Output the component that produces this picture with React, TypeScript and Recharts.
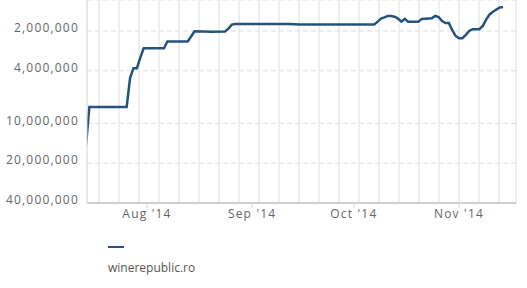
import { CartesianGrid, Legend, Line, LineChart, XAxis, YAxis } from 'recharts'

const dates = [
  '2014-07-14', '2014-07-15', '2014-07-26', '2014-07-27', '2014-07-28', '2014-07-29',
  '2014-07-30', '2014-07-31', '2014-08-06', '2014-08-07', '2014-08-13', '2014-08-14',
  '2014-08-15', '2014-08-20', '2014-08-24', '2014-08-25', '2014-08-26', '2014-08-27',
  '2014-09-12', '2014-09-15', '2014-10-07', '2014-10-08', '2014-10-09', '2014-10-10',
  '2014-10-11', '2014-10-12', '2014-10-13', '2014-10-14', '2014-10-15', '2014-10-16',
  '2014-10-17', '2014-10-20', '2014-10-21', '2014-10-24', '2014-10-25', '2014-10-26',
  '2014-10-27', '2014-10-28', '2014-10-29', '2014-10-30', '2014-10-31', '2014-11-01',
  '2014-11-02', '2014-11-03', '2014-11-04', '2014-11-05', '2014-11-07', '2014-11-08',
  '2014-11-09', '2014-11-10', '2014-11-11', '2014-11-12', '2014-11-13', '2014-11-14',
]

const ranks = [
  14600000, 7500000, 7500000, 4540000, 3820000, 3820000,
  3190000, 2700000, 2700000, 2400000, 2400000, 2200000,
  2010000, 2030000, 2020000, 1920000, 1790000, 1770000,
  1770000, 1790000, 1790000, 1700000, 1610000, 1580000,
  1540000, 1540000, 1560000, 1610000, 1700000, 1620000,
  1700000, 1700000, 1620000, 1600000, 1540000, 1570000,
  1680000, 1740000, 1740000, 1970000, 2180000, 2270000,
  2270000, 2140000, 2000000, 1940000, 1940000, 1830000,
  1640000, 1500000, 1430000, 1380000, 1330000, 1320000,
]

const rankTicks = [2000000, 4000000, 10000000, 20000000, 40000000]
const monthTicks = ['2014-08-01', '2014-09-01', '2014-10-01', '2014-11-01']
const monthNames = ['Jan', 'Feb', 'Mar', 'Apr', 'May', 'Jun', 'Jul', 'Aug', 'Sep', 'Oct', 'Nov', 'Dec']
const seriesName = 'winerepublic.ro'

const DAY = 86400000
const ts = (s: string) => Date.parse(s + 'T00:00:00Z')
const xStart = ts('2014-08-01') - 17.7 * DAY
const xEnd = ts('2014-08-01') + 108.8 * DAY

const data = dates.map((d, i) => ({ t: ts(d), rank: ranks[i] }))

function monthLabel(v: number) {
  const d = new Date(v)
  return `${monthNames[d.getUTCMonth()]} '${String(d.getUTCFullYear()).slice(2)}`
}

const lineColor = '#24547e'
const gridColor = '#dedede'

function LegendBox() {
  return (
    <div style={{ fontFamily: '"Open Sans", sans-serif' }}>
      <div style={{ width: 16, height: 2, background: lineColor, marginLeft: 8 }} />
      <div style={{ fontSize: 12, color: '#555', marginTop: 11, marginLeft: 8 }}>{seriesName}</div>
    </div>
  )
}

export default function App() {
  return (
    <div style={{ position: 'absolute', left: 0, top: 0, width: 527, height: 288, background: '#fff', fontFamily: '"Open Sans", sans-serif' }}>
      <LineChart width={527} height={288} data={data} margin={{ top: 0, right: 11, bottom: 55, left: 0 }}>
        <CartesianGrid horizontal={true} vertical={false} stroke={gridColor} strokeDasharray="5 3" />
        <CartesianGrid
          horizontal={false}
          vertical={true}
          stroke={gridColor}
          verticalCoordinatesGenerator={({ offset }: any) => {
            const out: number[] = []
            for (let x = offset.left + 12; x < offset.left + offset.width - 5; x += 20) out.push(x)
            out.push(offset.left + offset.width)
            return out
          }}
        />
        <XAxis
          dataKey="t"
          type="number"
          scale="time"
          domain={[xStart, xEnd]}
          allowDataOverflow
          ticks={monthTicks.map(ts)}
          tickFormatter={monthLabel}
          tick={{ fontSize: 12, fill: '#666', letterSpacing: 1.2 }}
          tickSize={5}
          tickMargin={1}
          tickLine={{ stroke: '#ccd6eb' }}
          axisLine={{ stroke: '#d0d0d0', strokeWidth: 2 }}
        />
        <YAxis
          dataKey="rank"
          scale="log"
          reversed
          domain={[1166000, 40000000]}
          allowDataOverflow
          ticks={rankTicks}
          tickFormatter={(v: number) => v.toLocaleString('en-US')}
          tick={{ fontSize: 12, fill: '#666', letterSpacing: 1.2, dy: -3 }}
          tickLine={false}
          axisLine={{ stroke: '#d0d0d0' }}
          width={87}
        />
        <Legend
          layout="horizontal"
          verticalAlign="middle"
          align="center"
          wrapperStyle={{ top: 246, left: 100, width: 140 }}
          content={() => <LegendBox />}
        />
        <Line
          type="linear"
          dataKey="rank"
          name={seriesName}
          stroke={lineColor}
          strokeWidth={2.5}
          dot={false}
          isAnimationActive={false}
        />
      </LineChart>
    </div>
  )
}
